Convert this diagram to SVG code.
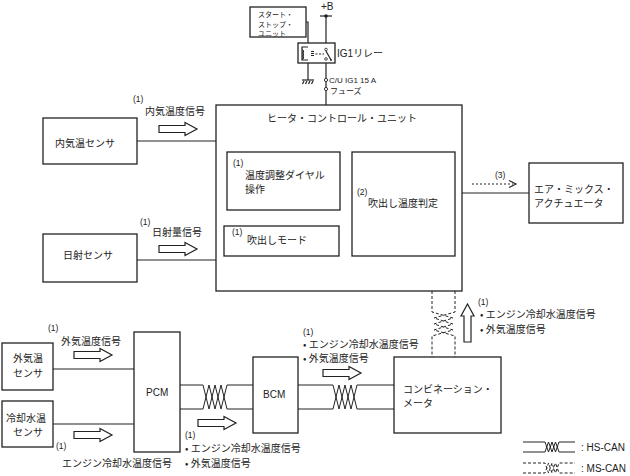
<svg xmlns="http://www.w3.org/2000/svg" width="630" height="476" viewBox="0 0 630 476">
<style>
.box{fill:#fff;stroke:#222;stroke-width:1.3}
.ln{fill:none;stroke:#222;stroke-width:1.2}
.can{fill:none;stroke:#222;stroke-width:1}
.dash{stroke-dasharray:3,2}
.harr{fill:#fff;stroke:#222;stroke-width:1.2}
.t{font-family:"Noto Sans CJK JP","Noto Sans",sans-serif;font-size:10px;fill:#222}
.s{font-size:8px}
.n{font-size:8.5px}
.xs{font-size:7px}
.lat{font-family:"Liberation Sans",Arial,sans-serif}
</style>
<defs>
<path id="harr" d="M0,-3.5 H26 V-6.5 L38,0 L26,6.5 V3.5 H0 Z"/>
</defs>
<rect width="630" height="476" fill="#fff"/>

<g id="connectors">
  <path class="ln" d="M326,16 V48"/>
  <path class="ln" d="M326,60 V78.5"/>
  <path class="ln" d="M326,90.5 V105"/>
  <circle cx="326" cy="16" r="1.8" fill="#222"/>
  <path class="ln" d="M320,16 H332"/>
  <path class="ln" d="M306,22 H308 V47"/>
  <path class="ln" d="M308,60 V80"/>
  <path class="ln" d="M137,141 H216"/>
  <path class="ln" d="M137,260 H216"/>
  <path class="ln" d="M462,193 H529"/>
  <path class="ln" d="M53,369 H134"/>
  <path class="ln" d="M53,424 H134"/>
  <path class="can" d="M180,385 H203 L209,409 L215,385 L221,409 L227,385 H253"/>
  <path class="can" d="M180,409 H203 L209,385 L215,409 L221,385 L227,409 H253"/>
  <path class="can" d="M298,385 H333 L339,409 L345,385 L351,409 L357,385 H394"/>
  <path class="can" d="M298,409 H333 L339,385 L345,409 L351,385 L357,409 H394"/>
  <path class="can dash" d="M432,291 V312 L453,318 L434,324 L453,330 L432,336 V357"/>
  <path class="can dash" d="M455,291 V312 L434,318 L453,324 L434,330 L455,336 V357"/>
  <use href="#harr" class="harr" x="159" y="129"/>
  <use href="#harr" class="harr" x="159" y="249"/>
  <use href="#harr" class="harr" x="74" y="355"/>
  <use href="#harr" class="harr" x="74" y="435"/>
  <use href="#harr" class="harr" x="198" y="423"/>
  <use href="#harr" class="harr" x="323" y="373"/>
  <use href="#harr" class="harr" transform="translate(467.5,342) rotate(-90)"/>
  <path class="ln" d="M472,184 H513" stroke-dasharray="2,2"/>
  <path class="ln" d="M509,180.5 L516,184 L509,187.5"/>
</g>

<g id="start-stop-unit">
  <rect class="box" x="250" y="7" width="56" height="30"/>
  <text class="t xs" x="258" y="16.5">スタート・</text>
  <text class="t xs" x="258" y="26.5">ストップ・</text>
  <text class="t xs" x="258" y="35.5">ユニット</text>
</g>

<g id="plus-b">
  <text class="t lat" x="321" y="10" font-size="9">+B</text>
</g>

<g id="ig1-relay">
  <rect class="box" x="298" y="43" width="37" height="20"/>
  <path class="ln" d="M308,47 H302 V60 H308" stroke-width="1"/>
  <path class="ln" d="M302,50 a1.5,1.5 0 0 1 0,3 a1.5,1.5 0 0 1 0,3 a1.5,1.5 0 0 1 0,3" stroke-width="0.9"/>
  <path class="ln" d="M311,51.5 H314 M311,53.5 H314 M311,55.5 H314" stroke-width="0.8"/>
  <path class="ln" d="M315.5,54 H324" stroke-width="0.9" stroke-dasharray="2,1.5"/>
  <circle cx="326" cy="49.5" r="1.3" fill="#fff" stroke="#222" stroke-width="0.8"/>
  <circle cx="326" cy="59" r="1.3" fill="#fff" stroke="#222" stroke-width="0.8"/>
  <path class="ln" d="M326,51 L331,60" stroke-width="0.9"/>
  <circle cx="331" cy="60" r="0.9" fill="#222"/>
  <text class="t" x="337" y="57"><tspan class="lat">IG1</tspan>リレー</text>
</g>

<g id="ground">
  <path class="ln" d="M302,80 H314" stroke-width="1"/>
  <path class="ln" d="M304,81 L302.5,84 M307,81 L305.5,84 M310,81 L308.5,84 M313,81 L311.5,84" stroke-width="0.8"/>
</g>

<g id="fuse">
  <circle cx="326" cy="80" r="1.6" fill="#fff" stroke="#222" stroke-width="0.9"/>
  <circle cx="326" cy="89" r="1.6" fill="#fff" stroke="#222" stroke-width="0.9"/>
  <path class="ln" d="M326,81.6 V87.4" stroke-width="0.8"/>
  <text class="t s lat" x="329" y="83">C/U IG1 15 A</text>
  <text class="t s" x="330" y="94">フューズ</text>
</g>

<g id="heater-control-unit">
  <rect class="box" x="216" y="105" width="246" height="186"/>
  <text class="t" x="267" y="122">ヒータ・コントロール・ユニット</text>
</g>

<g id="temp-dial">
  <rect class="box" x="227" y="152" width="113" height="58"/>
  <text class="t n lat" x="233" y="165.5">(1)</text>
  <text class="t" x="245" y="178.5">温度調整ダイヤル</text>
  <text class="t" x="245" y="193">操作</text>
</g>

<g id="blow-mode">
  <rect class="box" x="224" y="226" width="115" height="30"/>
  <text class="t n lat" x="232" y="235">(1)</text>
  <text class="t" x="247" y="244">吹出しモード</text>
</g>

<g id="blow-temp">
  <rect class="box" x="352" y="152" width="103" height="104"/>
  <text class="t n lat" x="357" y="195">(2)</text>
  <text class="t" x="368" y="207">吹出し温度判定</text>
</g>

<g id="inner-temp-sensor">
  <rect class="box" x="43" y="118" width="94" height="46"/>
  <text class="t" x="55" y="147">内気温センサ</text>
  <text class="t n lat" x="133" y="102">(1)</text>
  <text class="t" x="145" y="115">内気温度信号</text>
</g>

<g id="solar-sensor">
  <rect class="box" x="43" y="234" width="94" height="48"/>
  <text class="t" x="63" y="259">日射センサ</text>
  <text class="t n lat" x="140" y="225">(1)</text>
  <text class="t" x="152" y="236">日射量信号</text>
</g>

<g id="air-mix-actuator">
  <rect class="box" x="529" y="163" width="94" height="60"/>
  <text class="t" x="534" y="192.5">エア・ミックス・</text>
  <text class="t" x="534" y="207">アクチュエータ</text>
  <text class="t n lat" x="495" y="178">(3)</text>
</g>

<g id="outside-temp-sensor">
  <rect class="box" x="2" y="343" width="51" height="47"/>
  <text class="t" x="13" y="362">外気温</text>
  <text class="t" x="13" y="376.5">センサ</text>
  <text class="t n lat" x="48" y="331">(1)</text>
  <text class="t" x="61" y="345">外気温度信号</text>
</g>

<g id="coolant-temp-sensor">
  <rect class="box" x="2" y="401" width="51" height="46"/>
  <text class="t" x="6" y="421.5">冷却水温</text>
  <text class="t" x="13" y="436">センサ</text>
  <text class="t n lat" x="56" y="449">(1)</text>
  <text class="t" x="62" y="467">エンジン冷却水温度信号</text>
</g>

<g id="pcm">
  <rect class="box" x="134" y="332" width="46" height="120"/>
  <text class="t lat" x="146" y="396">PCM</text>
  <text class="t n lat" x="185" y="438">(1)</text>
  <text class="t" x="185" y="452">• エンジン冷却水温度信号</text>
  <text class="t" x="185" y="467">• 外気温度信号</text>
</g>

<g id="bcm">
  <rect class="box" x="253" y="357" width="45" height="76"/>
  <text class="t lat" x="263" y="398">BCM</text>
  <text class="t n lat" x="303" y="335">(1)</text>
  <text class="t" x="303" y="348">• エンジン冷却水温度信号</text>
  <text class="t" x="303" y="362">• 外気温度信号</text>
</g>

<g id="combination-meter">
  <rect class="box" x="394" y="357" width="107" height="76"/>
  <text class="t" x="403" y="392.5">コンビネーション・</text>
  <text class="t" x="403" y="407">メータ</text>
  <text class="t n lat" x="478" y="304.5">(1)</text>
  <text class="t" x="480" y="318">• エンジン冷却水温度信号</text>
  <text class="t" x="480" y="333">• 外気温度信号</text>
</g>

<g id="legend">
  <path class="can" d="M523,442 H545 L548.5,452 L552,442 L555.5,452 L559,442 H575"/>
  <path class="can" d="M523,452 H545 L548.5,442 L552,452 L555.5,442 L559,452 H575"/>
  <path class="can dash" d="M523,463 H545 L548.5,473 L552,463 L555.5,473 L559,463 H575"/>
  <path class="can dash" d="M523,473 H545 L548.5,463 L552,473 L555.5,463 L559,473 H575"/>
  <text class="t lat" x="581" y="451">: HS-CAN</text>
  <text class="t lat" x="581" y="472">: MS-CAN</text>
</g>
</svg>
